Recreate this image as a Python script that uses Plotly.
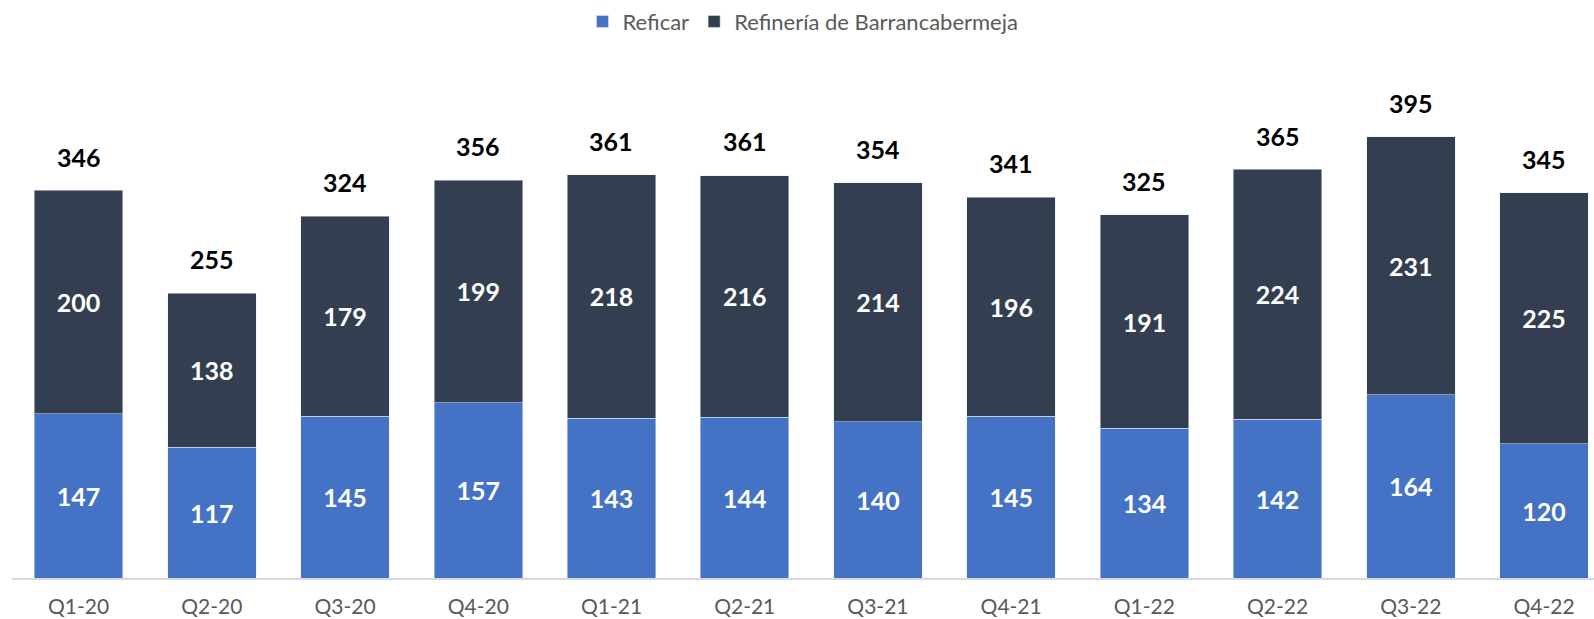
import plotly.graph_objects as go

categories = ["Q1-20", "Q2-20", "Q3-20", "Q4-20", "Q1-21", "Q2-21", "Q3-21", "Q4-21",
              "Q1-22", "Q2-22", "Q3-22", "Q4-22"]
reficar = [147, 117, 145, 157, 143, 144, 140, 145, 134, 142, 164, 120]
barrancabermeja = [200, 138, 179, 199, 218, 216, 214, 196, 191, 224, 231, 225]
totals = [346, 255, 324, 356, 361, 361, 354, 341, 325, 365, 395, 345]

BLUE = "#4472C4"
DARK = "#333F50"
GRAY = "#595959"
LBL_FONT = "Lato"
LBL_SIZE = 25

fig = go.Figure()
fig.add_trace(go.Bar(
    name="Reficar", x=categories, y=reficar, marker_color=BLUE,
    text=[str(v) for v in reficar], textposition="inside", insidetextanchor="middle",
    textangle=0, constraintext="none",
    textfont=dict(family=LBL_FONT, size=LBL_SIZE, color="white", weight="bold"),
))
fig.add_trace(go.Bar(
    name="Refinería de Barrancabermeja", x=categories, y=barrancabermeja, marker_color=DARK,
    text=[str(v) for v in barrancabermeja], textposition="inside", insidetextanchor="middle",
    textangle=0, constraintext="none",
    textfont=dict(family=LBL_FONT, size=LBL_SIZE, color="white", weight="bold"),
))

for c, t in zip(categories, totals):
    fig.add_annotation(x=c, y=t, text=str(t), showarrow=False, yanchor="bottom", yshift=17,
                       font=dict(family=LBL_FONT, size=LBL_SIZE, color="black", weight="bold"))

fig.update_layout(
    width=1594, height=619,
    barmode="stack", bargap=0.336,
    plot_bgcolor="white", paper_bgcolor="white",
    margin=dict(l=12, r=0, t=60, b=41, autoexpand=False),
    uniformtext=dict(minsize=LBL_SIZE, mode="show"),
    legend=dict(orientation="h", x=0.5, xanchor="center", y=1.074, yanchor="middle",
                font=dict(family="Lato", size=22, color=GRAY), traceorder="normal",
                itemwidth=30),
    xaxis=dict(range=[-0.5, 11.375], showline=True, linecolor="#D9D9D9", linewidth=1.5,
               ticks="outside", ticklen=9, tickcolor="rgba(0,0,0,0)", automargin=False,
               tickfont=dict(family="Lato", size=21, color=GRAY), showgrid=False),
    yaxis=dict(range=[0, 463.7], visible=False, showgrid=False, automargin=False),
    showlegend=True,
)

fig.write_html("out.html", config={"displayModeBar": False},
               post_script="document.body.style.margin='0';document.body.style.overflow='hidden';")
